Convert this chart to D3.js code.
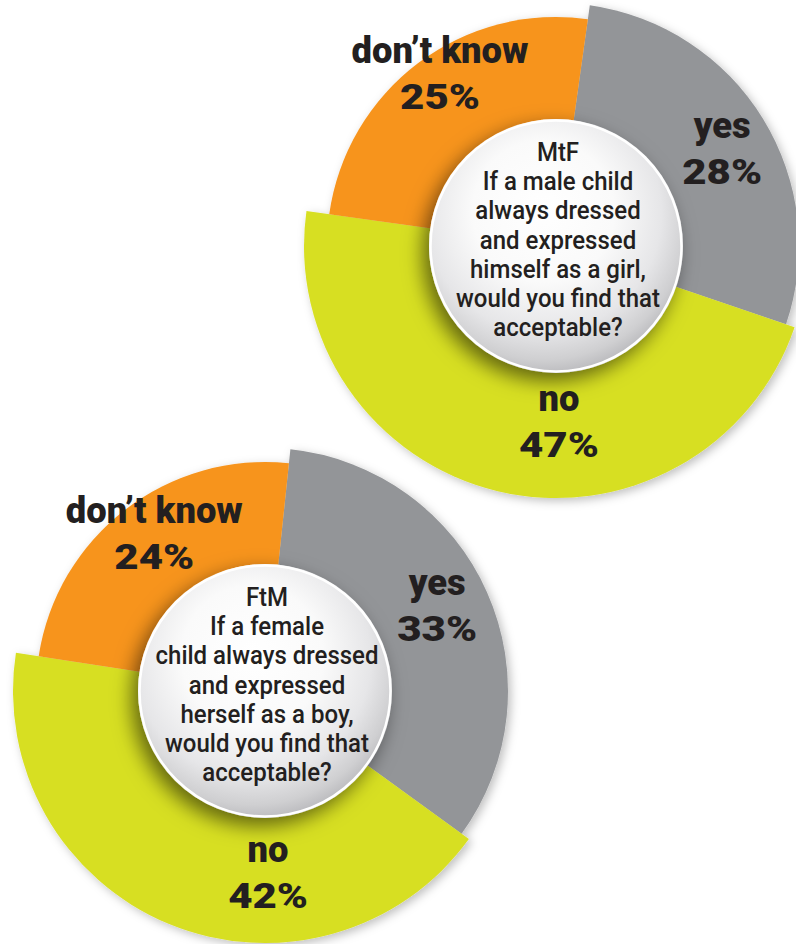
<!DOCTYPE html>
<html>
<head>
<meta charset="utf-8">
<script src="https://cdn.jsdelivr.net/npm/d3@7"></script>
<style>
  html, body { margin: 0; padding: 0; background: #ffffff; }
  svg { display: block; }
</style>
</head>
<body>
<svg id="chart" width="796" height="944"></svg>
<script>
// ---- data ----
const categories = ["yes", "no", "don’t know"];
const mtfValues = [28, 47, 25];
const ftmValues = [33, 42, 24];
const mtfQuestion = ["MtF", "If a male child", "always dressed", "and expressed", "himself as a girl,", "would you find that", "acceptable?"];
const ftmQuestion = ["FtM", "If a female", "child always dressed", "and expressed", "herself as a boy,", "would you find that", "acceptable?"];

// ---- style / layout ----
const colors = ["#939598", "#D7DF23", "#F7941D"];
const outerRadius = [243, 252, 229];
const charts = [
  { values: mtfValues, question: mtfQuestion, cx: 556, cy: 246, start: 8,
    labelAngle: [58, 179, 327], labelRadius: [196, 169, 213] },
  { values: ftmValues, question: ftmQuestion, cx: 265, cy: 691, start: 6,
    labelAngle: [62, 179, 326], labelRadius: [195, 175, 198] }
];
const circleR = 127;
const toRad = d => d * Math.PI / 180;
const labelFont = "Roboto, 'Noto Sans', sans-serif";

const svg = d3.select("#chart");
const defs = svg.append("defs");

const grad = defs.append("radialGradient").attr("id", "discGrad")
  .attr("cx", "45%").attr("cy", "38%").attr("r", "62%").attr("fx", "45%").attr("fy", "35%");
[["0%", "#ffffff"], ["45%", "#fafafa"], ["75%", "#e6e6e8"], ["92%", "#cfcfd1"], ["100%", "#bdbdc0"]]
  .forEach(([o, c]) => grad.append("stop").attr("offset", o).attr("stop-color", c));

const fSlice = defs.append("filter").attr("id", "sliceShadow")
  .attr("x", "-20%").attr("y", "-20%").attr("width", "140%").attr("height", "140%");
fSlice.append("feDropShadow").attr("dx", 3).attr("dy", 3).attr("stdDeviation", 5)
  .attr("flood-color", "#000").attr("flood-opacity", 0.25);

const fDisc = defs.append("filter").attr("id", "discShadow")
  .attr("x", "-30%").attr("y", "-30%").attr("width", "160%").attr("height", "160%");
fDisc.append("feDropShadow").attr("dx", -6).attr("dy", 8).attr("stdDeviation", 10)
  .attr("flood-color", "#000").attr("flood-opacity", 0.55);

const pie = d3.pie().sort(null).value(d => d.value);

charts.forEach(ch => {
  const data = categories.map((c, i) => ({ cat: c, value: ch.values[i], i }));
  const arcs = pie.startAngle(toRad(ch.start)).endAngle(toRad(ch.start) + 2 * Math.PI)(data);
  const g = svg.append("g").attr("transform", `translate(${ch.cx},${ch.cy})`);

  const arcGen = d3.arc().innerRadius(0).outerRadius(d => outerRadius[d.data.i]);
  g.append("g").attr("filter", "url(#sliceShadow)")
    .selectAll("path").data(arcs).join("path")
    .attr("d", arcGen)
    .attr("fill", d => colors[d.data.i]);

  // labels
  const lab = g.selectAll("g.lab").data(arcs).join("g").attr("class", "lab")
    .attr("transform", d => {
      const a = toRad(ch.labelAngle[d.data.i]);
      const r = ch.labelRadius[d.data.i];
      return `translate(${r * Math.sin(a)},${-r * Math.cos(a)})`;
    });
  lab.append("text").attr("y", -4).attr("text-anchor", "middle")
    .attr("font-family", labelFont).attr("font-weight", 900)
    .attr("font-size", 36).attr("fill", "#231F20")
    .attr("transform", "scale(1.01,1)")
    .text(d => d.data.cat);
  lab.append("text").attr("y", 42).attr("text-anchor", "middle")
    .attr("font-family", labelFont).attr("font-weight", 900)
    .attr("font-size", 35).attr("fill", "#231F20")
    .attr("transform", "scale(1.2,1)")
    .text(d => d.data.value + "%");

  // central disc
  g.append("circle").attr("r", circleR)
    .attr("fill", "url(#discGrad)").attr("filter", "url(#discShadow)");
  g.append("circle").attr("r", circleR - 1.5)
    .attr("fill", "none").attr("stroke", "#ffffff").attr("stroke-width", 2.5);

  const qt = g.append("text").attr("text-anchor", "middle")
    .attr("font-family", labelFont).attr("font-weight", 500)
    .attr("font-size", 25).attr("fill", "#231F20")
    .attr("transform", "translate(2,0) scale(0.96,1)");
  ch.question.forEach((line, k) => {
    qt.append("tspan").attr("x", 0).attr("y", -85 + k * 29.2).text(line);
  });
});
</script>
</body>
</html>
